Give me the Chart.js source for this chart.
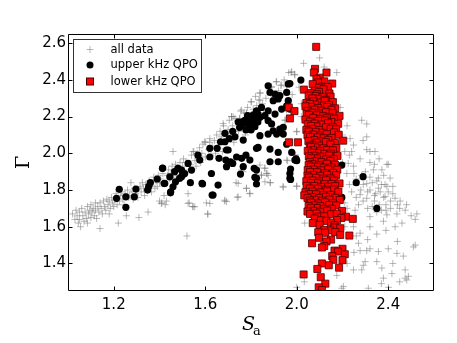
<!DOCTYPE html>
<html>
<head>
<meta charset="utf-8">
<script src="https://cdn.jsdelivr.net/npm/chart.js@4/dist/chart.umd.min.js"></script>
<style>
html,body{margin:0;padding:0;background:#fff;}
#wrap{width:457px;height:343px;position:relative;}
</style>
</head>
<body>
<div id="wrap"><canvas id="c" width="457" height="343"></canvas></div>
<script>
// ---- data ----
const seriesLabels = ["all data", "upper kHz QPO", "lower kHz QPO"];
const xTicks = [1.2, 1.6, 2.0, 2.4];
const yTicks = [1.4, 1.6, 1.8, 2.0, 2.2, 2.4, 2.6];
const xRange = [1.0, 2.6];
const yRange = [1.25, 2.65];
const xTitleMain = "S";
const xTitleSub = "a";
const yTitle = "\u0393";

const allData = [
[1.02,1.67],[1.03,1.64],[1.035,1.69],[1.04,1.66],[1.045,1.62],[1.05,1.68],[1.05,1.64],[1.055,1.60],[1.06,1.70],[1.065,1.66],
[1.07,1.63],[1.075,1.68],[1.08,1.645],[1.085,1.71],[1.085,1.62],[1.09,1.67],[1.095,1.69],[1.10,1.65],[1.10,1.72],[1.105,1.68],
[1.11,1.70],[1.115,1.66],[1.12,1.73],[1.12,1.69],[1.125,1.645],[1.13,1.71],[1.135,1.68],[1.14,1.59],[1.14,1.73],[1.145,1.70],
[1.15,1.67],[1.155,1.74],[1.16,1.71],[1.165,1.69],[1.17,1.75],[1.175,1.72],[1.18,1.74],[1.18,1.67],[1.185,1.70],[1.19,1.76],
[1.195,1.73],[1.20,1.71],[1.205,1.75],[1.21,1.78],[1.215,1.72],[1.22,1.62],[1.225,1.74],[1.23,1.77],[1.235,1.79],[1.24,1.75],
[1.245,1.72],[1.25,1.78],[1.255,1.66],[1.26,1.80],[1.265,1.76],[1.27,1.77],[1.275,1.84],[1.28,1.79],[1.285,1.75],[1.29,1.81],
[1.295,1.78],[1.30,1.80],[1.305,1.76],[1.31,1.65],[1.315,1.82],[1.32,1.79],[1.325,1.84],[1.33,1.81],[1.335,1.77],[1.34,1.83],
[1.345,1.80],[1.35,1.68],[1.355,1.85],[1.36,1.82],[1.365,1.79],[1.37,1.84],[1.375,1.87],[1.38,1.81],[1.385,1.85],[1.39,1.82],
[1.395,1.88],[1.40,1.74],[1.40,1.84],[1.405,1.86],[1.41,1.73],[1.415,1.89],[1.42,1.77],[1.425,1.72],[1.43,1.74],[1.435,1.88],
[1.44,1.91],[1.445,1.86],[1.45,1.89],[1.455,1.93],[1.46,1.87],[1.465,1.91],[1.47,1.94],[1.475,1.88],[1.48,1.92],[1.49,1.95],
[1.495,1.90],[1.50,1.93],[1.505,1.97],[1.51,1.91],[1.515,1.95],[1.52,1.55],[1.525,1.78],[1.53,1.73],[1.535,1.94],[1.54,1.99],
[1.545,1.71],[1.55,2.01],[1.555,1.96],[1.56,1.93],[1.565,2.00],[1.57,1.97],[1.575,2.03],[1.58,1.95],[1.585,2.00],[1.59,2.05],
[1.60,2.06],[1.60,1.98],[1.605,1.73],[1.61,1.67],[1.615,2.02],[1.62,2.08],[1.625,1.99],[1.63,2.04],[1.64,2.07],[1.645,2.00],
[1.65,2.10],[1.655,2.03],[1.66,2.06],[1.665,2.12],[1.67,2.09],[1.675,2.01],[1.68,2.15],[1.685,1.74],[1.69,2.11],[1.695,2.07],
[1.70,2.13],[1.705,2.18],[1.71,2.10],[1.715,2.20],[1.72,2.15],[1.725,2.06],[1.73,2.19],[1.735,1.84],[1.74,1.76],[1.745,2.12],
[1.75,2.19],[1.755,2.23],[1.76,2.16],[1.765,1.90],[1.77,2.22],[1.775,2.10],[1.78,2.22],[1.78,1.81],[1.785,2.25],[1.79,2.17],
[1.795,1.78],[1.80,2.28],[1.805,2.20],[1.81,2.24],[1.815,2.14],[1.82,2.31],[1.825,2.26],[1.83,2.19],[1.835,2.29],[1.84,2.33],
[1.845,1.88],[1.85,2.27],[1.855,2.22],[1.86,1.92],[1.865,2.30],[1.87,1.89],[1.875,1.88],[1.88,2.35],[1.885,1.84],[1.89,2.36],
[1.90,2.31],[1.91,2.39],[1.92,2.34],[1.93,2.37],[1.935,2.24],[1.94,1.82],[1.945,2.40],[1.95,2.18],[1.955,2.24],[1.96,1.96],
[1.965,2.44],[1.975,2.44],[1.98,2.32],[1.99,2.43],[1.995,1.99],[2.0,2.12],[2.0,1.82],[2.01,2.36],[2.02,2.27],[2.03,2.49],
[2.035,1.62],[2.033,1.30],[2.0,1.27],[2.12,2.47],[2.175,2.44],[2.10,2.52],
[1.459,2.01],[1.547,2.01],[1.598,2.063],[1.62,2.06],[1.678,2.163],[1.715,2.2],[1.759,2.236],[1.839,2.327],[1.722,2.2],[1.751,2.19],
[1.78,2.218],[1.802,2.281],[1.839,2.29],[1.89,2.363],[1.912,2.39],[1.934,2.372],[1.956,2.363],[1.978,2.445],[1.992,2.427],[1.956,2.236],
[1.948,2.181],[2.0,2.117],[1.992,1.99],[1.956,1.963],[1.868,1.891],[1.846,1.882],[1.759,1.909],[1.839,1.936],[1.861,1.918],[1.861,1.845],
[1.883,1.84],[1.941,1.815],[2.0,1.822],[1.408,1.727],[1.525,1.727],[1.547,1.709],[1.62,1.727],[1.686,1.745],[1.744,1.763],[1.795,1.782],
[1.744,1.836],[1.78,1.809],[1.612,1.669],[1.693,1.737],[1.554,1.709],
[2.21,2.01],[2.225,1.945],[2.25,1.89],[2.284,2.18],[2.306,2.16],[2.306,2.09],[2.29,2.07],[2.233,2.08],[2.248,2.045],[2.24,2.01],
[2.306,2.02],[2.32,2.01],[2.342,2.01],[2.277,1.97],[2.40,1.94],[2.394,1.94],[2.372,1.91],[2.335,1.91],[2.248,1.93],[2.284,1.88],
[2.32,1.87],[2.357,1.865],[2.408,1.865],[2.386,1.83],[2.306,1.835],[2.219,1.89],[2.291,1.83],[2.32,1.80],[2.357,1.81],[2.394,1.82],
[2.277,1.775],[2.306,1.755],[2.386,1.765],[2.43,1.755],[2.452,1.74],[2.474,1.69],[2.525,1.67],[2.518,1.64],[2.438,1.67],[2.394,1.665],
[2.379,1.63],[2.32,1.655],[2.255,1.69],[2.27,1.72],[2.46,1.62],[2.518,1.50],[2.466,1.44],[2.438,1.455],[2.357,1.465],[2.32,1.48],
[2.277,1.47],[2.299,1.41],[2.284,1.365],[2.248,1.365],[2.372,1.375],[2.379,1.32],[2.416,1.345],[2.488,1.33],[2.481,1.31],[2.474,1.365],
[2.204,1.275],[2.313,1.265],[2.401,1.27],[2.175,1.335],[2.27,1.51],[2.277,1.565],[2.32,1.60],[2.248,1.60],[2.51,1.49],[2.474,1.32],
[2.197,1.265],[2.291,1.39],[2.306,1.47],
[2.33,1.84],[2.345,1.78],[2.35,1.85],[2.365,1.79],[2.37,1.83],[2.38,1.76],[2.34,1.74],[2.36,1.72],[2.40,1.79],[2.41,1.74],
[2.42,1.78],[2.44,1.72],[2.45,1.70],[2.41,1.70],[2.39,1.72],[2.37,1.69],[2.35,1.68],[2.33,1.71],[2.31,1.70],[2.29,1.74],
[2.26,1.76],[2.24,1.79],[2.23,1.83],[2.26,1.86],[2.30,1.90],[2.34,1.94],[2.36,1.97],[2.32,1.95],[2.38,1.88],[2.42,1.82],
[2.48,1.72],[2.50,1.66],[2.43,1.60],[2.39,1.58],[2.35,1.56],[2.31,1.53],[2.26,1.55],[2.44,1.52],[2.40,1.48],[2.35,1.41],
[2.42,1.40],[2.22,1.70],[2.21,1.73],[2.23,1.65],[2.21,1.60],[2.25,1.46],[2.22,1.40],[2.45,1.30],[2.37,1.29],
[2.20,2.10],[2.22,2.15],[2.19,2.25],[2.02,2.20],[2.20,1.95],[2.23,1.99],[2.34,1.77],[2.31,1.79],[2.39,1.69],[2.28,1.80]
];

const upperQPO = [
[1.224,1.804],[1.212,1.755],[1.253,1.763],[1.253,1.706],[1.29,1.763],[1.297,1.805],[1.348,1.80],[1.353,1.82],[1.36,1.84],[1.39,1.86],
[1.414,1.92],[1.42,1.835],[1.413,1.918],[1.445,1.872],[1.423,1.836],[1.449,1.79],[1.459,1.818],[1.466,1.90],[1.481,1.918],[1.496,1.909],
[1.51,1.89],[1.488,1.864],[1.525,1.945],[1.54,1.909],[1.568,1.99],[1.576,1.963],[1.586,1.836],[1.62,2.027],[1.62,1.98],[1.627,1.89],
[1.634,1.773],[1.652,2.027],[1.66,1.973],[1.667,2.063],[1.686,2.109],[1.686,2.063],[1.693,2.018],[1.69,1.963],[1.70,2.018],[1.693,1.927],
[1.71,1.954],[1.72,1.945],[1.73,2.09],[1.737,1.98],[1.759,1.973],[1.766,2.072],[1.778,2.127],[1.778,1.99],[1.744,2.17],[1.759,2.17],
[1.773,2.18],[1.788,2.163],[1.802,2.163],[1.81,2.172],[1.817,2.145],[1.80,2.127],[1.81,2.21],[1.824,2.2],[1.83,2.17],[1.824,2.027],
[1.814,1.918],[1.824,1.909],[1.795,1.963],[1.766,1.927],
[1.875,2.368],[1.883,2.332],[1.905,2.323],[1.897,2.287],[1.919,2.296],[1.926,2.314],[1.956,2.332],[1.963,2.378],[1.963,2.287],[1.956,2.259],
[1.97,2.241],[1.934,2.241],[1.905,2.214],[1.875,2.232],[1.861,2.205],[1.839,2.196],[1.846,2.25],[1.824,2.232],[1.875,2.178],[1.89,2.16],
[1.897,2.123],[1.875,2.105],[1.912,2.105],[1.926,2.132],[1.941,2.141],[1.941,2.105],[1.839,2.096],[1.831,2.032],[1.883,2.023],[1.919,2.005],
[1.956,2.05],[1.978,2.005],[2.0,1.96],[1.824,1.864],[1.824,1.833],[1.883,1.954],[1.919,1.954],[1.97,1.89],[1.97,1.864],[1.992,1.963],
[2.018,2.399],[1.97,2.38],[1.997,1.97],[1.973,1.914],[2.197,1.936],[2.29,1.873],[2.26,1.84],[2.197,1.76],[2.35,1.70],[1.754,1.887],
[1.817,1.869],[1.973,1.858],[1.448,1.785],[1.496,1.872],[1.535,1.84],[1.588,1.833],[1.63,1.773],[1.656,1.827],[1.50,1.88],[1.47,1.845],
[1.795,2.19],[1.785,2.205],[1.80,2.20],[1.79,2.15],[1.815,2.185],[1.83,2.215],[1.76,2.155],[1.75,2.14],[1.72,2.12],[1.705,2.08]
];

const lowerQPO = [
[2.085,2.58],[2.08,2.46],[2.075,2.44],[2.13,2.44],[2.10,2.412],[2.086,2.405],[2.12,2.392],[2.093,2.386],[2.155,2.38],[2.07,2.377],
[2.11,2.363],[2.097,2.357],[2.136,2.361],[1.965,2.25],[1.99,2.23],[1.97,2.19],[1.966,2.06],[2.005,2.06],
[2.031,2.347],[2.078,2.341],[2.117,2.349],
[2.062,2.328],[2.097,2.334],[2.143,2.326],[2.088,2.322],
[2.083,2.312],[2.112,2.306],[2.052,2.315],[2.148,2.309],
[2.091,2.297],[2.127,2.291],[2.068,2.299],
[2.073,2.283],[2.104,2.277],[2.122,2.286],[2.158,2.279],[2.042,2.274],
[2.081,2.266],[2.119,2.261],[2.057,2.269],[2.141,2.263],
[2.064,2.253],[2.092,2.247],[2.133,2.252],[2.168,2.245],[2.038,2.256],
[2.077,2.238],[2.108,2.232],[2.152,2.237],[2.047,2.231],
[2.067,2.222],[2.096,2.217],[2.128,2.224],[2.043,2.215],[2.157,2.219],
[2.088,2.207],[2.116,2.202],[2.053,2.209],[2.187,2.204],[2.142,2.198],
[2.072,2.193],[2.103,2.187],[2.131,2.191],[2.038,2.184],[2.163,2.189],
[2.094,2.177],[2.057,2.173],[2.124,2.179],[2.152,2.171],
[2.078,2.162],[2.108,2.157],[2.137,2.164],[2.048,2.158],[2.181,2.161],
[2.086,2.147],[2.128,2.142],[2.063,2.149],[2.157,2.144],
[2.068,2.132],[2.098,2.127],[2.148,2.134],[2.042,2.128],[2.172,2.131],
[2.083,2.117],[2.113,2.112],[2.052,2.119],[2.163,2.114],
[2.072,2.102],[2.104,2.097],[2.131,2.104],[2.047,2.098],[2.183,2.101],
[2.093,2.087],[2.118,2.082],[2.058,2.089],[2.152,2.084],
[2.077,2.072],[2.107,2.066],[2.138,2.073],[2.203,2.069],[2.051,2.067],
[2.087,2.058],[2.127,2.061],[2.167,2.056],
[2.068,2.047],[2.097,2.042],[2.147,2.048],[2.057,2.041],
[2.082,2.032],[2.117,2.027],[2.062,2.034],[2.173,2.029],
[2.071,2.017],[2.102,2.012],[2.133,2.018],[2.048,2.013],[2.158,2.016],
[2.092,2.002],[2.121,1.997],[2.066,2.004],[2.148,1.999],
[2.077,1.987],[2.103,1.982],[2.142,1.988],[2.053,1.983],[2.178,1.986],
[2.088,1.972],[2.127,1.967],[2.063,1.973],[2.162,1.968],
[2.082,1.957],[2.108,1.952],[2.147,1.958],[2.057,1.953],
[2.068,1.942],[2.098,1.937],[2.132,1.943],[2.167,1.938],[2.052,1.936],
[2.092,1.927],[2.118,1.922],[2.062,1.928],[2.152,1.923],
[2.073,1.912],[2.107,1.907],[2.138,1.913],[2.048,1.908],[2.177,1.911],
[2.088,1.897],[2.123,1.892],[2.058,1.898],[2.158,1.893],
[2.072,1.882],[2.102,1.877],[2.133,1.883],[2.047,1.878],[2.172,1.881],
[2.083,1.867],[2.117,1.862],[2.053,1.868],[2.148,1.863],
[2.068,1.852],[2.098,1.847],[2.128,1.853],[2.042,1.848],[2.163,1.851],
[2.088,1.837],[2.122,1.832],[2.062,1.838],[2.152,1.833],[2.187,1.836],
[2.077,1.822],[2.107,1.817],[2.043,1.823],[2.138,1.818],[2.168,1.821],
[2.092,1.807],[2.127,1.802],[2.057,1.808],[2.162,1.803],
[2.068,1.792],[2.102,1.787],[2.133,1.793],[2.038,1.788],[2.182,1.791],
[2.083,1.777],[2.117,1.772],[2.053,1.778],[2.148,1.773],[2.033,1.771],
[2.067,1.762],[2.098,1.757],[2.128,1.763],[2.167,1.758],[2.047,1.756],
[2.078,1.747],[2.112,1.742],[2.143,1.748],[2.057,1.743],[2.188,1.746],
[2.063,1.732],[2.097,1.727],[2.123,1.733],[2.158,1.728],
[2.077,1.717],[2.103,1.712],[2.142,1.718],[2.052,1.713],[2.173,1.716],
[2.087,1.702],[2.118,1.697],[2.062,1.703],[2.153,1.698],
[2.072,1.687],[2.102,1.682],[2.133,1.688],[2.047,1.683],[2.198,1.686],
[2.058,1.67],[2.087,1.672],[2.15,1.668],[2.175,1.671],[2.095,1.655],[2.12,1.657],[2.215,1.655],[2.078,1.645],[2.195,1.648],[2.245,1.643],
[2.106,1.635],[2.13,1.632],[2.176,1.636],[2.07,1.62],[2.15,1.622],[2.10,1.61],[2.165,1.608],[2.166,1.596],[2.19,1.592],
[2.146,1.58],[2.12,1.583],[2.094,1.57],[2.124,1.567],[2.168,1.571],[2.19,1.555],[2.23,1.552],[2.097,1.54],[2.15,1.53],[2.13,1.52],
[2.067,1.51],[2.12,1.495],[2.11,1.487],[2.20,1.48],[2.165,1.47],[2.18,1.465],[2.21,1.45],[2.155,1.44],[2.16,1.42],[2.20,1.418],
[2.14,1.39],[2.11,1.40],[2.185,1.377],[2.09,1.37],[2.03,1.34],[2.105,1.325],[2.125,1.29],[2.096,1.27],[2.11,1.255]
];

// ---- chart ----
const toXY = arr => arr.map(p => ({x: p[0], y: p[1]}));
const TICK_FONT = {family: "'DejaVu Sans', sans-serif", size: 15};

const framePlugin = {
  id: 'frame',
  afterDraw(chart) {
    const ctx = chart.ctx, a = chart.chartArea;
    const xs = chart.scales.x, ys = chart.scales.y;
    ctx.save();
    ctx.strokeStyle = '#000';
    ctx.lineWidth = 1;
    const L = Math.round(a.left) + 0.5, R = Math.round(a.right) - 0.5;
    const T = Math.round(a.top) + 0.5, B = Math.round(a.bottom) - 0.5;
    ctx.beginPath();
    ctx.rect(L, T, R - L, B - T);
    ctx.stroke();
    const tl = 4;
    ctx.beginPath();
    xTicks.forEach(v => {
      const px = Math.round(xs.getPixelForValue(v)) + 0.5;
      ctx.moveTo(px, B); ctx.lineTo(px, B - tl);
      ctx.moveTo(px, T); ctx.lineTo(px, T + tl);
    });
    yTicks.forEach(v => {
      const py = Math.round(ys.getPixelForValue(v)) + 0.5;
      ctx.moveTo(L, py); ctx.lineTo(L + tl, py);
      ctx.moveTo(R, py); ctx.lineTo(R - tl, py);
    });
    ctx.stroke();

    // axis titles
    ctx.fillStyle = '#000';
    ctx.textBaseline = 'alphabetic';
    ctx.font = "italic 19px 'DejaVu Serif', serif";
    const cx = (a.left + a.right) / 2;
    ctx.textAlign = 'left';
    ctx.fillText(xTitleMain, cx - 9, 330);
    ctx.font = "13px 'DejaVu Serif', serif";
    ctx.fillText(xTitleSub, cx + 2, 335);
    ctx.save();
    ctx.translate(29, (a.top + a.bottom) / 2);
    ctx.rotate(-Math.PI / 2);
    ctx.textAlign = 'center';
    ctx.font = "19px 'DejaVu Serif', serif";
    ctx.fillText(yTitle, 0, 0);
    ctx.restore();

    // legend
    const lx = a.left + 5.5, ly = a.top + 5.5, lw = 128, lh = 53;
    ctx.fillStyle = '#fff';
    ctx.fillRect(lx, ly, lw, lh);
    ctx.strokeStyle = '#333';
    ctx.lineWidth = 1;
    ctx.strokeRect(lx, ly, lw, lh);
    const rows = [ly + 10, ly + 25.5, ly + 42];
    const mx = lx + 16.5;
    ctx.font = "11.5px 'DejaVu Sans', sans-serif";
    ctx.textAlign = 'left';
    ctx.textBaseline = 'middle';
    chart.data.datasets.forEach((ds, i) => {
      const y = rows[i];
      ctx.save();
      if (ds.pointStyle === 'cross') {
        ctx.strokeStyle = ds.borderColor; ctx.lineWidth = 1;
        ctx.beginPath();
        ctx.moveTo(mx - 3.5, y); ctx.lineTo(mx + 3.5, y);
        ctx.moveTo(mx, y - 3.5); ctx.lineTo(mx, y + 3.5);
        ctx.stroke();
      } else if (ds.pointStyle === 'circle') {
        ctx.fillStyle = ds.backgroundColor;
        ctx.beginPath(); ctx.arc(mx, y, 3.5, 0, Math.PI * 2); ctx.fill();
      } else {
        ctx.fillStyle = ds.backgroundColor; ctx.strokeStyle = ds.borderColor; ctx.lineWidth = 1;
        ctx.fillRect(mx - 3.5, y - 3.5, 7, 7); ctx.strokeRect(mx - 3.5, y - 3.5, 7, 7);
      }
      ctx.restore();
      ctx.fillStyle = '#000';
      ctx.fillText(ds.label, lx + 37, y + 0.5);
    });
    ctx.restore();
  }
};

new Chart(document.getElementById('c'), {
  type: 'scatter',
  data: {
    datasets: [
      {label: seriesLabels[0], data: toXY(allData), pointStyle: 'cross', pointRadius: 3.5,
       borderColor: 'rgba(115,115,115,0.5)', backgroundColor: 'rgba(115,115,115,0.5)', borderWidth: 1, order: 3},
      {label: seriesLabels[1], data: toXY(upperQPO), pointStyle: 'circle', pointRadius: 3.6,
       borderColor: '#000', backgroundColor: '#000', borderWidth: 0, order: 2},
      {label: seriesLabels[2], data: toXY(lowerQPO), pointStyle: 'rect', pointRadius: 5,
       borderColor: '#4a0000', backgroundColor: '#ff0000', borderWidth: 0.8, order: 1}
    ]
  },
  options: {
    responsive: false,
    animation: false,
    events: [],
    layout: {padding: {left: 0, top: 34, right: 23, bottom: 0}},
    plugins: {legend: {display: false}, tooltip: {enabled: false}},
    scales: {
      x: {
        type: 'linear', min: xRange[0], max: xRange[1],
        afterBuildTicks: s => { s.ticks = xTicks.map(v => ({value: v})); },
        afterFit: s => { s.height = 52; },
        grid: {display: false, drawTicks: false}, border: {display: false},
        ticks: {font: TICK_FONT, color: '#000', padding: 5, maxRotation: 0,
                callback: v => v.toFixed(1)}
      },
      y: {
        type: 'linear', min: yRange[0], max: yRange[1],
        afterBuildTicks: s => { s.ticks = yTicks.map(v => ({value: v})); },
        afterFit: s => { s.width = 68; },
        grid: {display: false, drawTicks: false}, border: {display: false},
        ticks: {font: TICK_FONT, color: '#000', padding: 2,
                callback: v => v.toFixed(1)}
      }
    }
  },
  plugins: [framePlugin]
});
</script>
</body>
</html>
